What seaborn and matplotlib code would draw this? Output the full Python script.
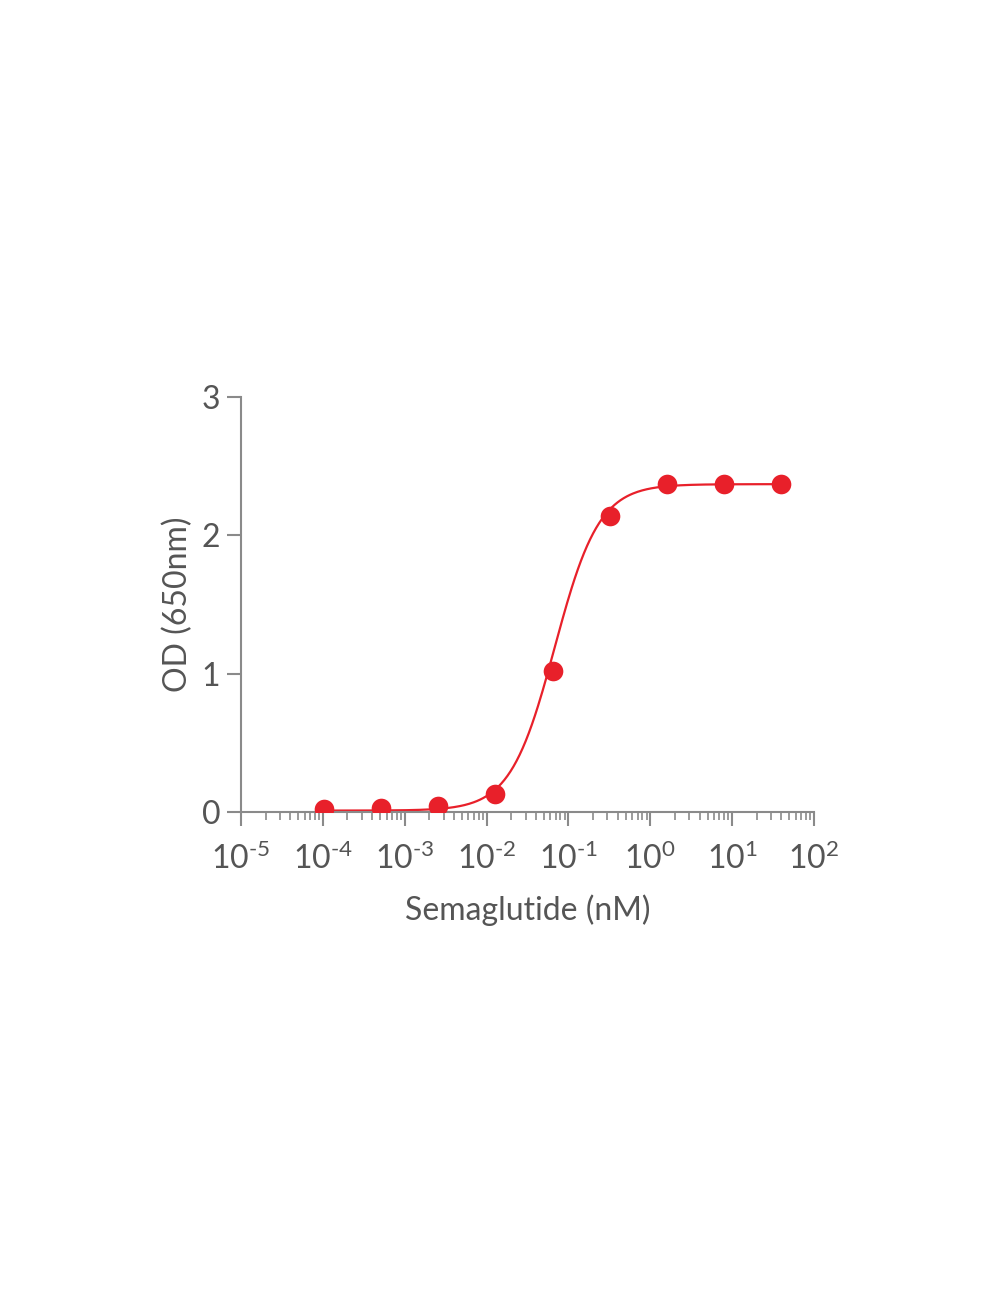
import numpy as np
import pandas as pd
import matplotlib
matplotlib.use('Agg')
import matplotlib.pyplot as plt
import matplotlib.ticker as mticker
import seaborn as sns

# data (5-fold dilution series)
conc_nm = [0.0001024, 0.000512, 0.00256, 0.0128, 0.064, 0.32, 1.6, 8.0, 40.0]
od_650 = [0.02, 0.03, 0.04, 0.13, 1.02, 2.14, 2.37, 2.37, 2.37]
od_sd = [0.01, 0.01, 0.01, 0.02, 0.06, 0.03, 0.02, 0.02, 0.03]

# 4PL fit parameters (estimated from the drawn curve)
fit_bottom = 0.01
fit_top = 2.37
fit_ec50 = 0.068
fit_hill = 1.6

tick_labels = [r'$\mathregular{10^{\text{%d}}}$' % p for p in range(-5, 3)]

sns.set_theme(style="white")
plt.rcParams['font.family'] = ['Lato', 'DejaVu Sans']
plt.rcParams['mathtext.fontset'] = 'custom'
plt.rcParams['mathtext.rm'] = 'Lato'
plt.rcParams['axes.unicode_minus'] = False

red = '#e8202a'
grey = '#8a8a8a'
text_col = '#555555'

df = pd.DataFrame({'conc': conc_nm, 'od': od_650, 'sd': od_sd})
xs = np.logspace(np.log10(conc_nm[0]), np.log10(conc_nm[-1]), 300)
fit = pd.DataFrame({'conc': xs,
                    'od': fit_bottom + (fit_top - fit_bottom) / (1 + (fit_ec50 / xs) ** fit_hill)})

fig = plt.figure(figsize=(10, 13), dpi=100)
ax = fig.add_axes([0.241, 0.3754, 0.573, 0.3192])

sns.lineplot(data=fit, x='conc', y='od', color=red, lw=1.6, ax=ax)
ax.errorbar(df['conc'], df['od'], yerr=df['sd'], fmt='none', ecolor=red, elinewidth=1.5, capsize=0)
sns.scatterplot(data=df, x='conc', y='od', color=red, s=200, edgecolor=red, linewidth=0, ax=ax, zorder=5)

ax.set_xscale('log')
ax.set_xlim(1e-5, 1e2)
ax.set_ylim(0, 3)
ax.set_xticks([10.0 ** p for p in range(-5, 3)])
ax.set_xticklabels(tick_labels)
ax.xaxis.set_minor_locator(mticker.LogLocator(base=10, subs=np.arange(2, 10), numticks=20))
ax.xaxis.set_minor_formatter(mticker.NullFormatter())
ax.set_yticks([0, 1, 2, 3])

for side in ['top', 'right']:
    ax.spines[side].set_visible(False)
for side in ['left', 'bottom']:
    ax.spines[side].set_color(grey)
    ax.spines[side].set_linewidth(1.5)

ax.tick_params(axis='both', which='major', direction='out', length=10, width=1.5,
               color=grey, labelcolor=text_col, labelsize=23, pad=5,
               bottom=True, left=True)
ax.tick_params(axis='x', which='major', pad=12)
ax.tick_params(axis='x', which='minor', direction='out', length=6, width=1.2, color=grey, bottom=True)
ax.tick_params(axis='y', which='minor', left=False)

ax.set_xlabel('Semaglutide (nM)', fontsize=23, color=text_col, labelpad=14)
ax.set_ylabel('OD (650nm)', fontsize=23, color=text_col, labelpad=6)

fig.savefig('out.png', dpi=100, facecolor='white')
